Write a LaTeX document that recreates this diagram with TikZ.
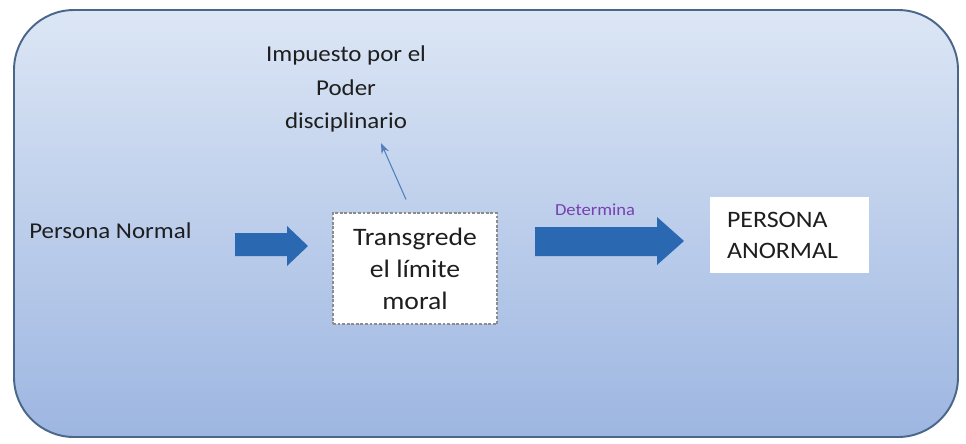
\documentclass[tikz,border=0pt]{standalone}
\usepackage{fontspec}
\setmainfont{Carlito}[FakeStretch=1.1]
\usetikzlibrary{calc,arrows.meta}
\definecolor{panelTop}{HTML}{DCE6F5}
\definecolor{panelBot}{HTML}{9DB6E1}
\definecolor{panelLine}{HTML}{4A6688}
\definecolor{fatBlue}{HTML}{2A69B2}
\definecolor{thinBlue}{HTML}{4F7FBF}
\definecolor{txt}{HTML}{1E1E1E}
\definecolor{purpleTxt}{HTML}{7A3FB0}
\tikzset{
  lbl/.style={text=txt, inner sep=0pt, font=\fontsize{12.9}{19.3}\selectfont},
  dashbox/.style={draw=black!45, fill=white, dash pattern=on 1.6pt off 1pt, line width=0.6pt,
    minimum width=3.28cm, minimum height=2.22cm, align=center, text=txt,
    font=\fontsize{14.3}{18.2}\selectfont},
  whitebox/.style={fill=white, text=txt, inner xsep=0.34cm, text width=2.5cm, align=left,
    minimum height=1.52cm, font=\fontsize{13.4}{17.6}\selectfont},
  fatarrow/.style={fill=fatBlue},
  thinarrow/.style={draw=thinBlue, line width=0.6pt, -{Stealth[length=6pt,width=4.5pt]}}
}
\begin{document}
\begin{tikzpicture}[x=0.02cm, y=-0.02cm]
			\useasboundingbox (0,0) rectangle (966,443);
			
			%%%%% panel %%%%%
			\shade[top color=panelTop, bottom color=panelBot, rounded corners=1.2cm] (14,10) rectangle (958,437);
			\draw[panelLine, line width=1.1pt, rounded corners=1.2cm] (14,10) rectangle (958,437);
			
			%%%%% texts and boxes %%%%%
			\node[lbl, align=center] (imp) at (346,89) {Impuesto por el\\Poder\\disciplinario};
			\node[lbl, anchor=west] (normal) at (29,231) {Persona Normal};
			\node[dashbox] (trans) at (415,268.5) {Transgrede\\el límite\\moral};
			\node[whitebox] (anormal) at (789.5,235) {PERSONA\\ANORMAL};
			\node[text=purpleTxt, inner sep=0pt, font=\fontsize{9.6}{11}\selectfont] (det) at (595,210) {Determina};
			
			%%%%% arrows %%%%%
			\fill[fatarrow] (235,233) -- (287,233) -- (287,226) -- (308,246) -- (287,266) -- (287,256) -- (235,256) -- cycle;
			\fill[fatarrow] (535,227) -- (657,227) -- (657,217) -- (684,241) -- (657,265) -- (657,256) -- (535,256) -- cycle;
			
			\coordinate (tail) at ($(trans.north)+(-9,-13)$);
			\coordinate (tip) at (381,143);
			\draw[thinarrow] (tail) -- (tip);
			
		\end{tikzpicture}
\end{document}
